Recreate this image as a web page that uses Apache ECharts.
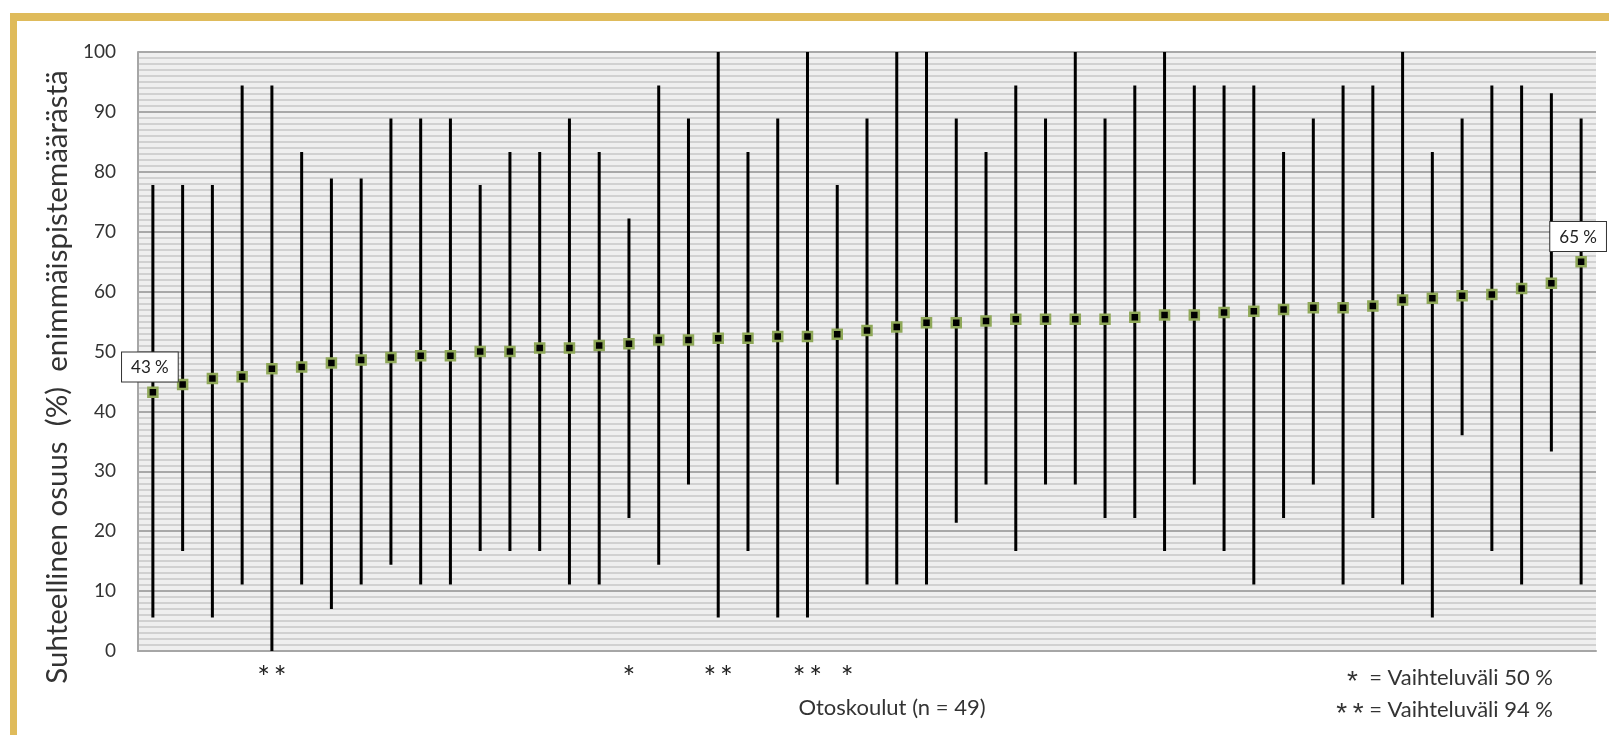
<!DOCTYPE html>
<html>
<head>
<meta charset="utf-8">
<script src="https://cdn.jsdelivr.net/npm/echarts@6/dist/echarts.min.js"></script>
<style>
    html, body { margin: 0; padding: 0; background: #fff; }
    #chart { width: 1609px; height: 735px; }
</style>
</head>
<body>
<div id="chart"></div>
<script>
// koulut järjestetty keskiarvon mukaan
var schools = [];
for (var i = 1; i <= 49; i++) { schools.push('K' + i); }

var means = [43.2, 44.5, 45.5, 45.8, 47.1, 47.4, 48.1, 48.6, 49.0,
    49.3, 49.3, 50.0, 50.0, 50.6, 50.6, 51.0, 51.3, 51.9, 51.9, 52.2, 52.2, 52.5, 52.5,
    52.9, 53.5, 54.1, 54.8, 54.8, 55.1, 55.4, 55.4, 55.4, 55.4, 55.7, 56.1, 56.1,
    56.5, 56.7, 57.0, 57.3, 57.3, 57.6, 58.6, 58.9, 59.3, 59.5, 60.5, 61.4, 65.0];
var maxs = [77.8, 77.8, 77.8, 94.4, 94.4, 83.3, 78.9, 78.9, 88.9,
    88.9, 88.9, 77.8, 83.3, 83.3, 88.9, 83.3, 72.2, 94.4, 88.9, 100, 83.3, 88.9, 100,
    77.8, 88.9, 100, 100, 88.9, 83.3, 94.4, 88.9, 100, 88.9, 94.4, 100, 94.4,
    94.4, 94.4, 83.3, 88.9, 94.4, 94.4, 100, 83.3, 88.9, 94.4, 94.4, 93.1, 88.9];
var mins = [5.6, 16.7, 5.6, 11.1, 0, 11.1, 7.0, 11.1, 14.4,
    11.1, 11.1, 16.7, 16.7, 16.7, 11.1, 11.1, 22.2, 14.4, 27.8, 5.6, 16.7, 5.6, 5.6,
    27.8, 11.1, 11.1, 11.1, 21.4, 27.8, 16.7, 27.8, 27.8, 22.2, 22.2, 16.7, 27.8,
    16.7, 11.1, 22.2, 27.8, 11.1, 22.2, 11.1, 5.6, 36.0, 16.7, 11.1, 33.3, 11.1];
// * = vaihteluväli 50 %, ** = vaihteluväli 94 %
var stars = ['', '', '', '', '**', '', '', '', '', '', '', '', '', '', '', '', '*', '', '',
    '**', '', '', '**', '*', '', '', '', '', '', '', '', '', '', '', '', '', '', '', '', '',
    '', '', '', '', '', '', '', '', ''];
var yTicks = [0, 10, 20, 30, 40, 50, 60, 70, 80, 90, 100];
var labelled = [0, 48];

var font = 'Lato, "Open Sans", sans-serif';
var gold = '#dfbb5b';

var rangeData = [];
var meanData = [];
for (var j = 0; j < schools.length; j++) {
    rangeData.push([j, mins[j], maxs[j]]);
    var item = { value: [j, means[j]] };
    if (labelled.indexOf(j) >= 0) {
        item.label = {
            show: true,
            position: 'top',
            distance: 5,
            offset: [-3, 0],
            formatter: function (p) { return Math.round(p.value[1]) + ' %'; },
            backgroundColor: '#fff',
            borderColor: '#333',
            borderWidth: 1,
            padding: [7, 9, 5, 9],
            color: '#222',
            fontSize: 17,
            fontFamily: font
        };
    }
    meanData.push(item);
}

function starLabel(v, idx) {
    var s = stars[idx].split('').join('\u2009');
    if (!s) return '';
    // vierekkäiset merkinnät erilleen
    if (idx > 0 && stars[idx - 1]) return '{g|' + s + '}';
    return s;
}

var myChart = echarts.init(document.getElementById('chart'));
var option = {
    animation: false,
    backgroundColor: '#fff',
    grid: {
        left: 138,
        right: 13,
        top: 52,
        bottom: 84,
        show: true,
        backgroundColor: '#efefef',
        borderWidth: 0
    },
    xAxis: {
        type: 'category',
        data: schools,
        axisLine: { show: true, lineStyle: { color: '#a6a6a6', width: 2 } },
        axisTick: { show: false },
        splitLine: { show: false },
        axisLabel: {
            interval: 0,
            margin: 12,
            fontSize: 30,
            color: '#222',
            fontFamily: font,
            formatter: starLabel,
            rich: { g: { fontSize: 30, fontFamily: font, color: '#222', padding: [0, 0, 0, 20] } }
        }
    },
    yAxis: {
        type: 'value',
        min: yTicks[0],
        max: yTicks[yTicks.length - 1],
        interval: 10,
        axisLine: { show: true, lineStyle: { color: '#a6a6a6', width: 2 } },
        axisTick: { show: false },
        axisLabel: { margin: 22, fontSize: 19, color: '#333', fontFamily: font },
        splitLine: { show: true, lineStyle: { color: '#a8a8a8', width: 2 } },
        minorTick: { show: false, splitNumber: 10 },
        minorSplitLine: { show: true, lineStyle: { color: '#c8c8c8', width: 1.5 } }
    },
    series: [
        {
            type: 'custom',
            data: rangeData,
            z: 2,
            renderItem: function (params, api) {
                var lo = api.coord([api.value(0), api.value(1)]);
                var hi = api.coord([api.value(0), api.value(2)]);
                return {
                    type: 'line',
                    shape: { x1: lo[0], y1: lo[1], x2: hi[0], y2: hi[1] },
                    style: { stroke: '#000', lineWidth: 3 }
                };
            }
        },
        {
            type: 'scatter',
            data: meanData,
            z: 3,
            symbol: 'rect',
            symbolSize: 9,
            itemStyle: { color: '#000', borderColor: '#8fa858', borderWidth: 2.5, opacity: 1 }
        }
    ],
    graphic: [
        { type: 'rect', shape: { x: 10, y: 13, width: 1599, height: 8 }, style: { fill: gold } },
        { type: 'rect', shape: { x: 10, y: 13, width: 7, height: 722 }, style: { fill: gold } },
        {
            type: 'text', x: 57, y: 377, rotation: Math.PI / 2,
            style: {
                text: 'Suhteellinen osuus  (%)  enimmäispistemäärästä',
                fontSize: 29.5, fontFamily: font, fill: '#333',
                textAlign: 'center', textVerticalAlign: 'middle'
            }
        },
        {
            type: 'text', x: 892, y: 708,
            style: {
                text: 'Otoskoulut (n = 49)', fontSize: 22, fontFamily: font, fill: '#333',
                textAlign: 'center', textVerticalAlign: 'middle'
            }
        },
        {
            type: 'text', x: 1553, y: 678,
            style: {
                rich: { s: { fontSize: 28, padding: [9, 0, 0, 0] } },
                text: '{s|*}  = Vaihteluväli 50 %', fontSize: 22, fontFamily: font, fill: '#333',
                textAlign: 'right', textVerticalAlign: 'middle'
            }
        },
        {
            type: 'text', x: 1553, y: 710,
            style: {
                rich: { s: { fontSize: 28, padding: [9, 0, 0, 0] } },
                text: '{s|*\u2009*} = Vaihteluväli 94 %', fontSize: 22, fontFamily: font, fill: '#333',
                textAlign: 'right', textVerticalAlign: 'middle'
            }
        }
    ]
};
myChart.setOption(option);
</script>
</body>
</html>
